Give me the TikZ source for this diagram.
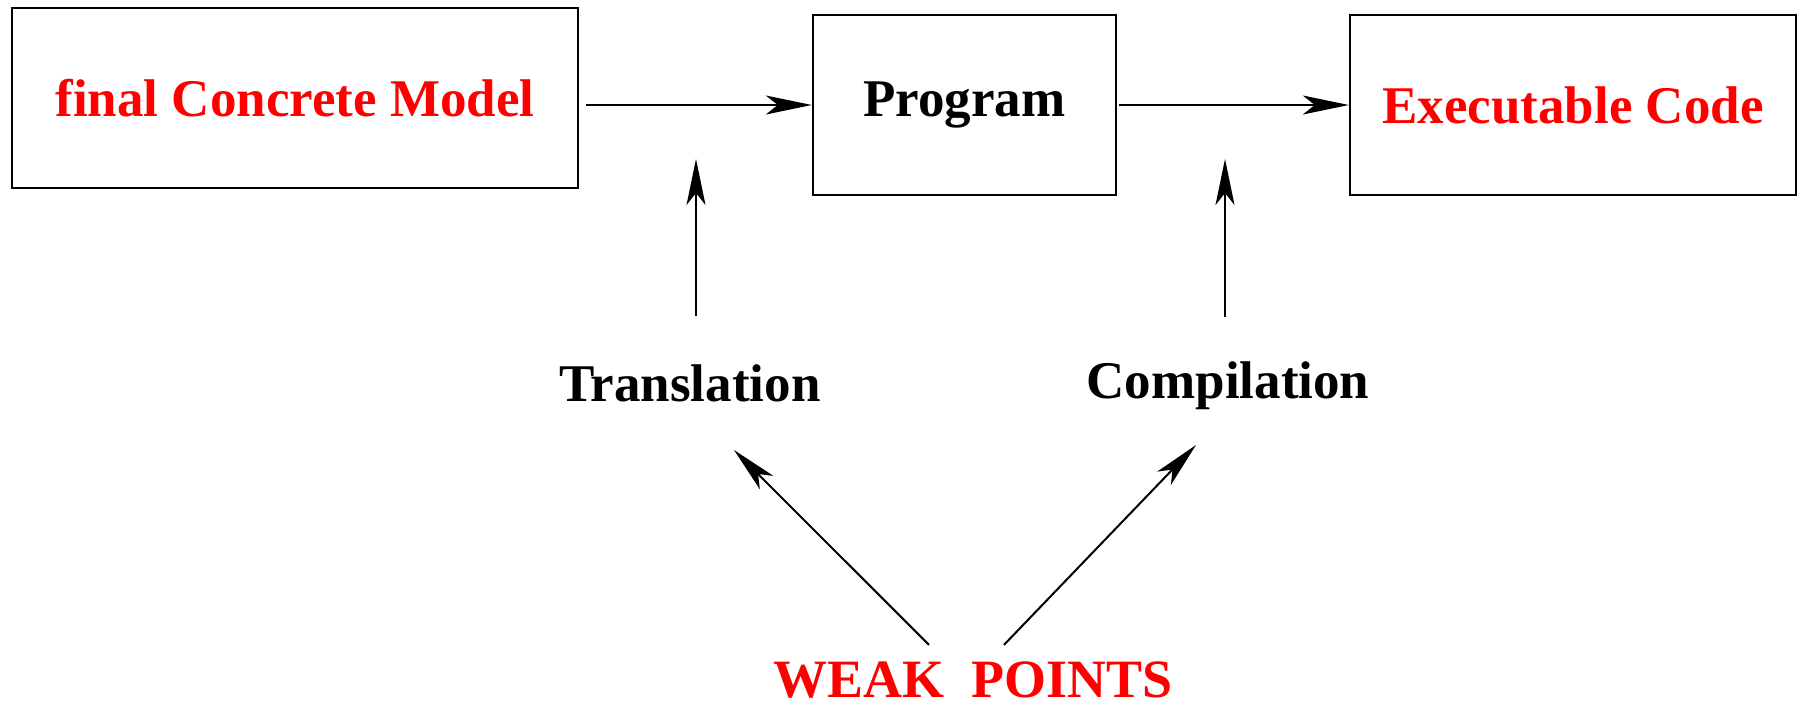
\documentclass[tikz,border=0pt]{standalone}
\usepackage{fontspec}
\setmainfont{Liberation Serif}
\usetikzlibrary{arrows.meta}

\begin{document}
\begin{tikzpicture}[x=0.5pt, y=-0.5pt]
    \tikzstyle{every node} = [align=center, inner sep=0pt, font=\bfseries\fontsize{26.5}{30}\selectfont]
    \tikzstyle{stage} = [draw, line width=1.2pt, minimum height=90pt]
    \tikzstyle{hot} = [text=red]
    \tikzstyle{flow} = [-{Stealth[length=23pt, width=9.5pt, inset=6pt]}, line width=1pt]
    \useasboundingbox (0,0) rectangle (1809,708);
    % the three stages
    \node [stage, hot, minimum width=283pt] (model) at (295,98) {final Concrete Model};
    \node [stage, minimum width=151.5pt] (prog) at (964.5,105) {Program};
    \node [stage, hot, minimum width=223pt] (exec) at (1573,105) {Executable Code};
    % steps and their cause
    \node [anchor=base] (trans) at (690,401) {Translation};
    \node [anchor=base] (comp) at (1228,398) {Compilation};
    \node [hot, anchor=base, font=\bfseries\fontsize{27}{31}\selectfont] (weak) at (973,697) {WEAK\ \ POINTS};
    \coordinate (trtip) at (696,159);
    \coordinate (cotip) at (1225,159);
    \coordinate (trfoot) at (734,450);
    \coordinate (cofoot) at (1196,445);
    \draw [flow, shorten <=3.5pt] (model.east |- prog.west) -- (prog.west);
    \draw [flow, shorten <=1pt] (prog.east) -- (exec.west);
    \draw [flow, shorten <=24pt] (trans.north -| trtip) -- (trtip);
    \draw [flow, shorten <=22pt] (comp.north -| cotip) -- (cotip);
    \draw [flow] ([xshift=-22pt, yshift=8pt]weak.north) -- (trfoot);
    \draw [flow] ([xshift=15.5pt, yshift=8pt]weak.north) -- (cofoot);
\end{tikzpicture}
\end{document}
